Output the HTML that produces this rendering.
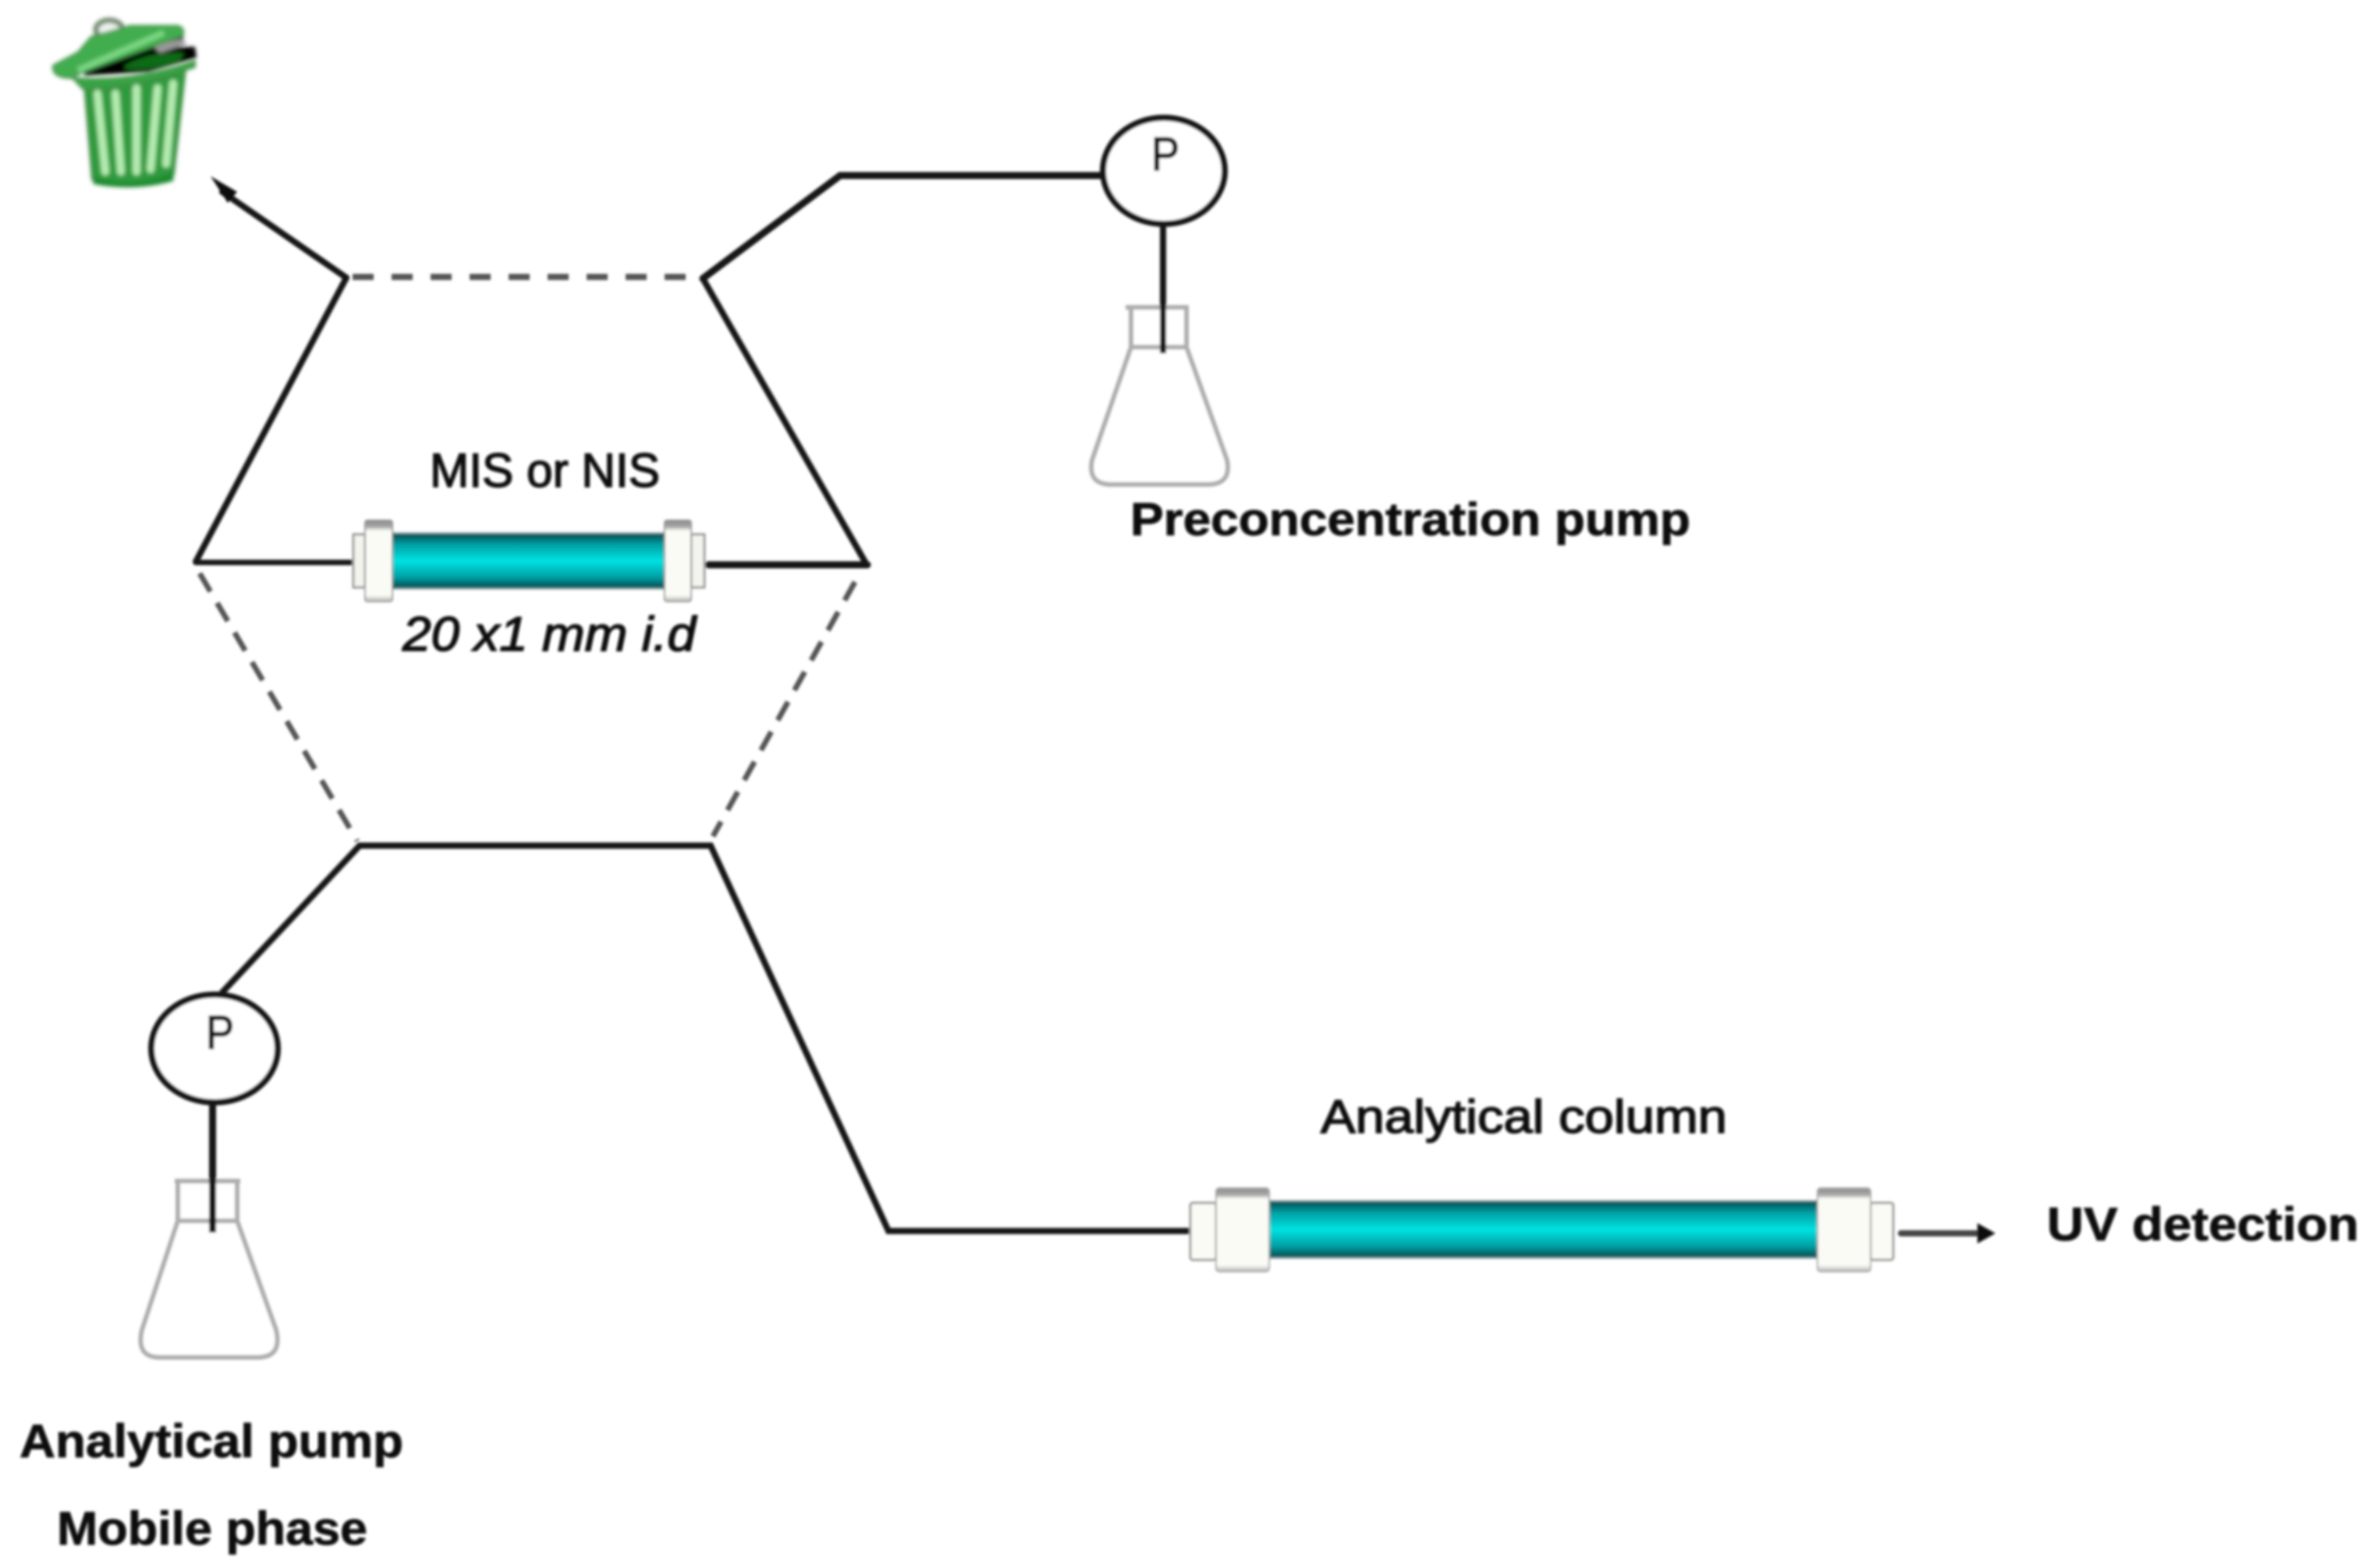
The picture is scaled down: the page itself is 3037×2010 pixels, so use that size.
<!DOCTYPE html>
<html lang="en">
<head>
<meta charset="utf-8">
<title>Column switching diagram</title>
<style>
html,body{margin:0;padding:0;background:#fff;width:3037px;height:2010px;overflow:hidden}
svg{display:block}
text{font-family:"Liberation Sans",sans-serif;fill:#0a0a0a;stroke:#0a0a0a;stroke-width:1.6}
text.b{stroke-width:.8}
</style>
</head>
<body>
<svg xmlns="http://www.w3.org/2000/svg" width="3037" height="2010" viewBox="0 0 3037 2010">
<defs>
<filter id="b" x="-2%" y="-2%" width="104%" height="104%"><feGaussianBlur stdDeviation="1.6"/></filter>
<filter id="b2" x="-10%" y="-10%" width="120%" height="120%"><feGaussianBlur stdDeviation="2"/></filter>
<linearGradient id="teal" x1="0" y1="0" x2="0" y2="1">
<stop offset="0" stop-color="#d0d0d0"/>
<stop offset=".05" stop-color="#005558"/>
<stop offset=".22" stop-color="#00a0a4"/>
<stop offset=".5" stop-color="#00e2e2"/>
<stop offset=".78" stop-color="#00a0a4"/>
<stop offset=".95" stop-color="#005558"/>
<stop offset="1" stop-color="#d0d0d0"/>
</linearGradient>
<linearGradient id="cap" x1="0" y1="0" x2="0" y2="1">
<stop offset="0" stop-color="#8a8a8a"/>
<stop offset=".08" stop-color="#a8a8a8"/>
<stop offset=".13" stop-color="#fbfbf6"/>
<stop offset=".92" stop-color="#fbfbf6"/>
<stop offset="1" stop-color="#b5b5b5"/>
</linearGradient>
</defs>
<rect width="3037" height="2010" fill="#fff"/>
<g filter="url(#b)">
<!-- trash can -->
<g filter="url(#b2)">
<path d="M108 110 L238 88 L223 223 Q173 250 118 230 Z" fill="#2f9a3c" stroke="#4d8a4d" stroke-width="2"/>
<path d="M118 226 Q173 244 223 220 L222 232 Q173 246 120 236 Z" fill="#1f8a2d"/>
<g stroke="#b4ecb0" stroke-width="10" stroke-linecap="round" fill="none">
<path d="M125 120 L135 220"/>
<path d="M148 120 L155 220"/>
<path d="M175 113 L175 220"/>
<path d="M202 113 L193 217"/>
<path d="M222 107 L213 210"/>
</g>
<path d="M93 100 Q170 106 250 78 L250 86 Q170 112 106 114 Z" fill="#36a544" stroke="#4a8a4a" stroke-width="2"/>
<path d="M108 93 L150 72 L233 42 L236 50 L205 60 L250 60 L252 74 L190 92 L108 97 Z" fill="#050505"/>
<path d="M160 84 Q190 66 236 68 L230 78 Q190 92 160 88 Z" fill="#0e6b12"/>
<path d="M195 58 L232 50 L240 56 L205 68 Z" fill="#999"/>
<ellipse cx="140" cy="38" rx="17" ry="12" fill="#eef2ee" stroke="#6f8a6f" stroke-width="7"/>
<path d="M68 84 L100 67 L117 47 L167 33 L228 33 Q238 36 234 46 L108 92 L92 100 Q66 100 68 84 Z" fill="#43ad50" stroke="#3d8a44" stroke-width="2"/>
<path d="M100 90 L210 42" stroke="#7ad682" stroke-width="8" fill="none"/>
</g>

<!-- solid connectors -->
<g fill="none" stroke="#141414" stroke-linejoin="miter" stroke-linecap="round">
<path d="M444 356 L285 246" stroke-width="8"/>
<path d="M444 356 L251 720" stroke-width="8"/>
<path d="M251 721 L455 721" stroke-width="7"/>
<path d="M901 357 L1077 225 L1412 225" stroke-width="9"/>
<path d="M901 357 L1110 722" stroke-width="8"/>
<path d="M908 724 L1112 724" stroke-width="9"/>
<path d="M285 1272 L461 1084 L911 1084 L1139 1578 L1526 1578" stroke-width="8"/>
<path d="M2437 1581 L2535 1581" stroke-width="8" stroke="#444"/>
</g>
<polygon points="270,226 304,246 292,260" fill="#111"/>
<polygon points="2558,1581 2535,1568 2535,1594" fill="#111"/>

<!-- dashed connectors -->
<g fill="none" stroke="#555">
<path d="M452 355 L900 355" stroke-width="8" stroke-dasharray="27 23"/>
<path d="M256 735 L458 1078" stroke-width="7" stroke-dasharray="27 17"/>
<path d="M1096 746 L914 1072" stroke-width="7" stroke-dasharray="27 17"/>
</g>

<!-- small column -->
<rect x="453" y="685" width="15" height="68" fill="#f4f4ee" stroke="#999" stroke-width="3"/>
<rect x="886" y="685" width="17" height="68" fill="#f4f4ee" stroke="#999" stroke-width="3"/>
<rect x="503" y="682" width="349" height="74" fill="url(#teal)"/>
<rect x="468" y="667" width="35" height="104" rx="3" fill="url(#cap)" stroke="#999" stroke-width="2"/>
<rect x="852" y="667" width="34" height="104" rx="3" fill="url(#cap)" stroke="#999" stroke-width="2"/>

<!-- analytical column -->
<rect x="1526" y="1542" width="33" height="73" rx="3" fill="#fbfbf6" stroke="#999" stroke-width="3"/>
<rect x="2398" y="1542" width="29" height="73" rx="3" fill="#fbfbf6" stroke="#999" stroke-width="3"/>
<rect x="1627" y="1538" width="703" height="76" fill="url(#teal)"/>
<rect x="1559" y="1523" width="68" height="107" rx="4" fill="url(#cap)" stroke="#aaa" stroke-width="2"/>
<rect x="2330" y="1523" width="68" height="107" rx="4" fill="url(#cap)" stroke="#aaa" stroke-width="2"/>

<!-- flasks -->
<g fill="#fff" stroke="#aeaeae" stroke-width="6" stroke-linejoin="round">
<path d="M1450 394 L1450 445 L1400 590 Q1394 621 1425 621 L1548 621 Q1579 621 1573 590 L1521 445 L1521 394 Z"/>
<path d="M1443 394 L1524 394 M1450 445 L1521 445" fill="none"/>
<path d="M228 1514 L228 1565 L182 1705 Q174 1740 205 1740 L330 1740 Q362 1740 354 1705 L304 1565 L304 1514 Z"/>
<path d="M224 1514 L308 1514 M228 1565 L304 1565" fill="none"/>
</g>

<!-- pumps -->
<g fill="none" stroke="#141414">
<ellipse cx="1492" cy="219" rx="78" ry="68" stroke-width="8" fill="#fff"/>
<ellipse cx="275" cy="1344" rx="81" ry="69" stroke-width="8" fill="#fff"/>
<path d="M1491 288 L1491 453" stroke-width="8"/>
<path d="M272.500 1415 L272.500 1580" stroke-width="9"/>
</g>

<!-- labels -->
<text x="1476" y="218" font-size="60" textLength="36" lengthAdjust="spacingAndGlyphs">P</text>
<text x="264" y="1344" font-size="60" textLength="36" lengthAdjust="spacingAndGlyphs">P</text>
<text x="551" y="624" font-size="61" textLength="295" lengthAdjust="spacingAndGlyphs">MIS or NIS</text>
<text x="516" y="834" font-size="62" font-style="italic" textLength="376" lengthAdjust="spacingAndGlyphs">20 x1 mm i.d</text>
<text class="b" x="1449" y="686" font-size="59" font-weight="bold" textLength="718" lengthAdjust="spacingAndGlyphs">Preconcentration pump</text>
<text x="1693" y="1452" font-size="60" textLength="521" lengthAdjust="spacingAndGlyphs">Analytical column</text>
<text class="b" x="2624" y="1590" font-size="60" font-weight="bold" textLength="400" lengthAdjust="spacingAndGlyphs">UV detection</text>
<text class="b" x="25" y="1868" font-size="60" font-weight="bold" textLength="492" lengthAdjust="spacingAndGlyphs">Analytical  pump</text>
<text class="b" x="73" y="1980" font-size="60" font-weight="bold" textLength="398" lengthAdjust="spacingAndGlyphs">Mobile phase</text>
</g>
</svg>
</body>
</html>
